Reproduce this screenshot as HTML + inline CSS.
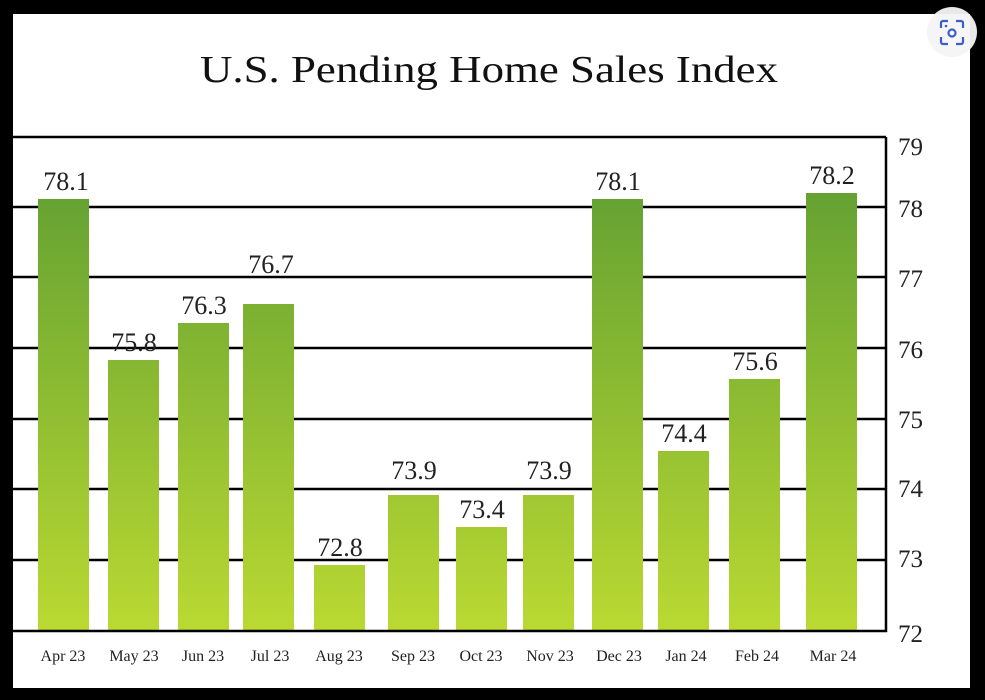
<!DOCTYPE html>
<html><head><meta charset="utf-8"><style>html,body{margin:0;padding:0;background:#000;}svg{display:block}</style></head>
<body>
<svg width="985" height="700" xmlns="http://www.w3.org/2000/svg" font-family="'Liberation Serif', serif">
<defs>
<linearGradient id="g" gradientUnits="userSpaceOnUse" x1="0" y1="137" x2="0" y2="631">
<stop offset="0" stop-color="#5b9b32"/><stop offset="1" stop-color="#bad932"/>
</linearGradient>
</defs>
<rect x="0" y="0" width="985" height="700" fill="#000"/>
<rect x="13" y="14" width="957" height="674" fill="#fff"/>
<text x="489" y="82" font-size="38" text-anchor="middle" fill="#111" textLength="578" lengthAdjust="spacingAndGlyphs">U.S. Pending Home Sales Index</text>
<g stroke="#000" stroke-width="2.5">
<line x1="13" y1="137" x2="886" y2="137"/>
<line x1="13" y1="207" x2="886" y2="207"/>
<line x1="13" y1="277" x2="886" y2="277"/>
<line x1="13" y1="348" x2="886" y2="348"/>
<line x1="13" y1="419" x2="886" y2="419"/>
<line x1="13" y1="489" x2="886" y2="489"/>
<line x1="13" y1="560" x2="886" y2="560"/>
</g>
<g fill="url(#g)">
<rect x="38" y="199" width="51" height="432"/>
<rect x="108" y="360" width="51" height="271"/>
<rect x="178" y="323" width="51" height="308"/>
<rect x="243" y="304" width="51" height="327"/>
<rect x="314" y="565" width="51" height="66"/>
<rect x="388" y="495" width="51" height="136"/>
<rect x="456" y="527" width="51" height="104"/>
<rect x="523" y="495" width="51" height="136"/>
<rect x="592" y="199" width="51" height="432"/>
<rect x="658" y="451" width="51" height="180"/>
<rect x="729" y="379" width="51" height="252"/>
<rect x="806" y="193" width="51" height="438"/>
</g>
<line x1="13" y1="631" x2="887" y2="631" stroke="#000" stroke-width="2.5"/>
<line x1="886" y1="137" x2="886" y2="632" stroke="#000" stroke-width="2.5"/>
<g font-size="26" fill="#222" text-anchor="middle">
<text x="66" y="190">78.1</text>
<text x="134" y="351">75.8</text>
<text x="204" y="314">76.3</text>
<text x="271" y="273">76.7</text>
<text x="340" y="556">72.8</text>
<text x="414" y="479">73.9</text>
<text x="482" y="518">73.4</text>
<text x="549" y="479">73.9</text>
<text x="618" y="190">78.1</text>
<text x="684" y="442">74.4</text>
<text x="755" y="370">75.6</text>
<text x="832" y="184">78.2</text>
</g>
<g font-size="25" fill="#222">
<text x="898" y="155">79</text>
<text x="898" y="217">78</text>
<text x="898" y="287">77</text>
<text x="898" y="358">76</text>
<text x="898" y="428">75</text>
<text x="898" y="497">74</text>
<text x="898" y="567">73</text>
<text x="898" y="642">72</text>
</g>
<g font-size="16" fill="#222" text-anchor="middle">
<text x="63" y="661">Apr 23</text>
<text x="134" y="661">May 23</text>
<text x="203" y="661">Jun 23</text>
<text x="270" y="661">Jul 23</text>
<text x="339" y="661">Aug 23</text>
<text x="413" y="661">Sep 23</text>
<text x="481" y="661">Oct 23</text>
<text x="550" y="661">Nov 23</text>
<text x="619" y="661">Dec 23</text>
<text x="686" y="661">Jan 24</text>
<text x="757" y="661">Feb 24</text>
<text x="833" y="661">Mar 24</text>
</g>
<circle cx="952" cy="32" r="25" fill="#f4f4f4" opacity="0.95"/>
<g fill="none" stroke="#3a5fc8" stroke-width="2.2">
<path d="M941 28v-5a2 2 0 0 1 2-2h5M956 21h5a2 2 0 0 1 2 2v5M963 37v5a2 2 0 0 1-2 2h-5M948 44h-5a2 2 0 0 1-2-2v-5"/>
<circle cx="952" cy="33" r="3.5"/>
</g>
<circle cx="946" cy="26" r="1.3" fill="#3a5fc8"/>
</svg>
</body></html>
